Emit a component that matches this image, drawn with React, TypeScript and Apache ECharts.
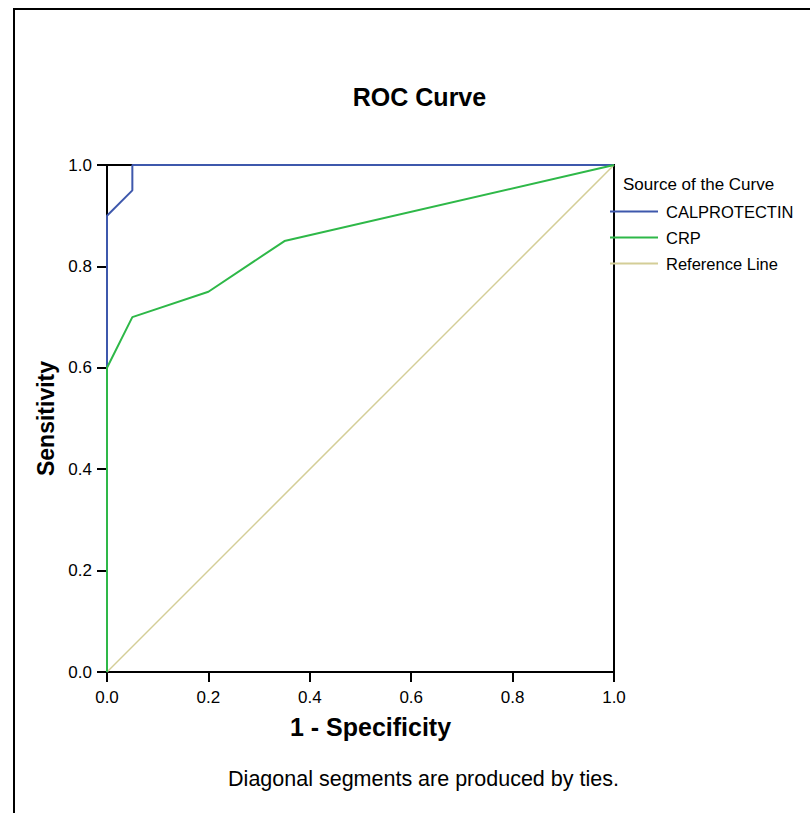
import React, { useEffect, useRef } from "react";
import * as echarts from "echarts";

const calprotectinFPR = [0, 0, 0.05, 0.05, 1];
const calprotectinTPR = [0, 0.9, 0.95, 1, 1];
const crpFPR = [0, 0, 0.05, 0.2, 0.35, 1];
const crpTPR = [0, 0.6, 0.7, 0.75, 0.85, 1];
const refFPR = [0, 1];
const refTPR = [0, 1];
const seriesNames = ["CALPROTECTIN", "CRP", "Reference Line"];
const titleText = "ROC Curve";
const xName = "1 - Specificity";
const yName = "Sensitivity";
const legendTitle = "Source of the Curve";
const footnote = "Diagonal segments are produced by ties.";

const FONT = "'Liberation Sans', Arial, sans-serif";

const zip = (xs: number[], ys: number[]) => xs.map((x, i) => [x, ys[i]]);

export default function App() {
  const ref = useRef<HTMLDivElement>(null);
  useEffect(() => {
    const chart = echarts.init(ref.current!, null, { renderer: "svg" });
    chart.setOption({
      animation: false,
      backgroundColor: "#fff",
      textStyle: { fontFamily: FONT },
      grid: {
        left: 107,
        top: 165,
        width: 507,
        height: 507,
        show: true,
        borderColor: "#000",
        borderWidth: 2,
        backgroundColor: "transparent",
      },
      xAxis: {
        type: "value",
        min: 0,
        max: 1,
        interval: 0.2,
        name: xName,
        nameLocation: "middle",
        nameGap: 42,
        nameTextStyle: {
          fontSize: 25,
          fontWeight: "bold",
          color: "#000",
          fontFamily: FONT,
          padding: [0, 0, 0, 20],
        },
        axisLine: { show: true, lineStyle: { color: "#000", width: 2 } },
        axisTick: { show: true, length: 10, lineStyle: { color: "#000", width: 2 } },
        axisLabel: {
          margin: 17,
          fontSize: 17,
          color: "#000",
          fontFamily: FONT,
          formatter: (v: number) => v.toFixed(1),
        },
        splitLine: { show: false },
      },
      yAxis: {
        type: "value",
        min: 0,
        max: 1,
        interval: 0.2,
        name: yName,
        nameLocation: "middle",
        nameGap: 45,
        nameTextStyle: {
          fontSize: 23,
          fontWeight: "bold",
          color: "#000",
          fontFamily: FONT,
        },
        axisLine: { show: true, lineStyle: { color: "#000", width: 2 } },
        axisTick: { show: true, length: 10, lineStyle: { color: "#000", width: 2 } },
        axisLabel: {
          margin: 15,
          fontSize: 17,
          color: "#000",
          fontFamily: FONT,
          formatter: (v: number) => v.toFixed(1),
        },
        splitLine: { show: false },
      },
      legend: {
        orient: "vertical",
        left: 610,
        top: 203,
        padding: 0,
        data: seriesNames,
        icon: "rect",
        itemWidth: 48,
        itemHeight: 2,
        itemGap: 9,
        textStyle: {
          fontSize: 16.5,
          color: "#000",
          fontFamily: FONT,
          lineHeight: 16,
          padding: [0, 0, 0, 3],
        },
        selectedMode: false,
      },
      graphic: [
        {
          type: "rect",
          shape: { x: 14, y: 9, width: 1000, height: 1000 },
          style: { fill: "none", stroke: "#000", lineWidth: 2 },
          silent: true,
        },
        {
          type: "text",
          x: 419.5,
          y: 97,
          style: {
            text: titleText,
            font: `bold 25px ${FONT}`,
            fill: "#000",
            textAlign: "center",
            textVerticalAlign: "middle",
          },
        },
        {
          type: "text",
          x: 623,
          y: 184,
          style: {
            text: legendTitle,
            font: `17px ${FONT}`,
            fill: "#000",
            textAlign: "left",
            textVerticalAlign: "middle",
          },
        },
        {
          type: "text",
          x: 423.5,
          y: 779,
          style: {
            text: footnote,
            font: `21.5px ${FONT}`,
            fill: "#000",
            textAlign: "center",
            textVerticalAlign: "middle",
          },
        },
      ],
      series: [
        {
          name: seriesNames[2],
          type: "line",
          data: zip(refFPR, refTPR),
          symbol: "none",
          clip: false,
          color: "#D4CE97",
          lineStyle: { color: "#D4CE97", width: 1.5 },
          z: 2,
        },
        {
          name: seriesNames[0],
          type: "line",
          data: zip(calprotectinFPR, calprotectinTPR),
          symbol: "none",
          clip: false,
          color: "#3E58AC",
          lineStyle: { color: "#3E58AC", width: 2 },
          z: 3,
        },
        {
          name: seriesNames[1],
          type: "line",
          data: zip(crpFPR, crpTPR),
          symbol: "none",
          clip: false,
          color: "#2EB848",
          lineStyle: { color: "#2EB848", width: 2 },
          z: 4,
        },
      ],
    });
    return () => chart.dispose();
  }, []);
  return (
    <div
      ref={ref}
      style={{ position: "fixed", left: 0, top: 0, width: 810, height: 813 }}
    />
  );
}
